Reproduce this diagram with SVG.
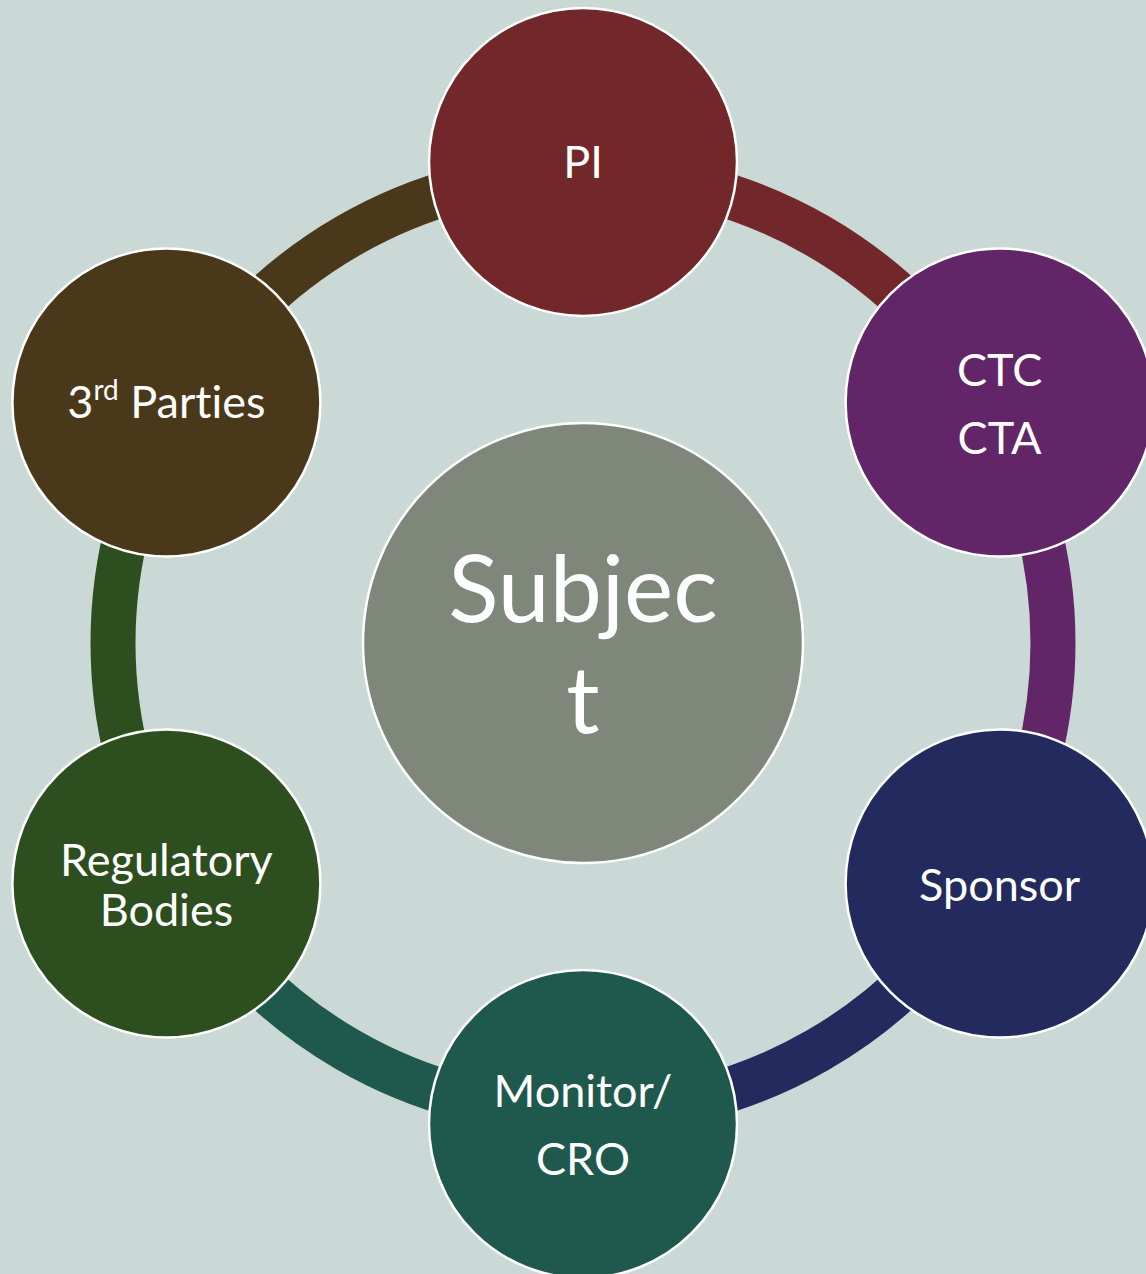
<svg xmlns="http://www.w3.org/2000/svg" width="1146" height="1274" viewBox="0 0 1146 1274">
<style>
.arc{fill:none;stroke-width:45;stroke-linecap:butt}
.node{stroke:#ffffff;stroke-width:2.5}
.lbl{font-family:Lato,"Open Sans","Liberation Sans",sans-serif;fill:#ffffff;text-anchor:middle;font-size:45px;font-variant-ligatures:none}
.big{font-size:93px}
</style>
<rect x="0" y="0" width="1146" height="1274" fill="#CAD9D6"/>
<g id="connectors">
<path class="arc" stroke="#72282B" d="M583,173 A470,470 0 0 1 990.03,408"/>
<path class="arc" stroke="#622567" d="M990.03,408 A470,470 0 0 1 990.03,878"/>
<path class="arc" stroke="#222A5E" d="M990.03,878 A470,470 0 0 1 583,1113"/>
<path class="arc" stroke="#1F584D" d="M583,1113 A470,470 0 0 1 175.97,878"/>
<path class="arc" stroke="#2D4E1E" d="M175.97,878 A470,470 0 0 1 175.97,408"/>
<path class="arc" stroke="#4A381B" d="M175.97,408 A470,470 0 0 1 583,173"/>
</g>
<g id="subject">
<circle class="node" cx="583" cy="643" r="220" fill="#7F867A"/>
<text class="lbl big" x="583" y="622">Subjec</text>
<text class="lbl big" x="583" y="733">t</text>
</g>
<g id="pi">
<circle class="node" cx="583" cy="162" r="154" fill="#72282B"/>
<text class="lbl" x="583" y="178">PI</text>
</g>
<g id="ctc">
<circle class="node" cx="999.6" cy="402.5" r="154" fill="#622567"/>
<text class="lbl" x="999.6" y="386">CTC</text>
<text class="lbl" x="999.6" y="454">CTA</text>
</g>
<g id="sponsor">
<circle class="node" cx="999.6" cy="883.5" r="154" fill="#222A5E"/>
<text class="lbl" x="999.6" y="901">Sponsor</text>
</g>
<g id="monitor">
<circle class="node" cx="583" cy="1124" r="154" fill="#1F584D"/>
<text class="lbl" x="583" y="1107">Monitor/</text>
<text class="lbl" x="583" y="1175">CRO</text>
</g>
<g id="regulatory">
<circle class="node" cx="166.4" cy="883.5" r="154" fill="#2D4E1E"/>
<text class="lbl" x="166.4" y="876">Regulatory</text>
<text class="lbl" x="166.4" y="926">Bodies</text>
</g>
<g id="third">
<circle class="node" cx="166.4" cy="402.5" r="154" fill="#4A381B"/>
<text class="lbl" x="166.4" y="418">3<tspan font-size="28" dy="-18">rd</tspan><tspan dy="18"> Parties</tspan></text>
</g>
</svg>
